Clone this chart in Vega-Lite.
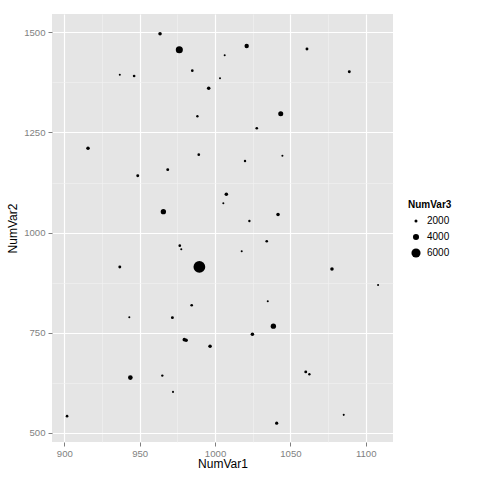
{
  "$schema": "https://vega.github.io/schema/vega-lite/v6.json",
  "width": 341,
  "height": 428,
  "autosize": "none",
  "padding": {"left": 52, "top": 14, "right": 87, "bottom": 38},
  "background": "white",
  "config": {
    "view": {"fill": "#E5E5E5", "stroke": null},
    "font": "Liberation Sans",
    "axis": {
      "domain": false,
      "labelColor": "#7F7F7F",
      "labelFontSize": 9.6,
      "labelOverlap": false,
      "tickSize": 4,
      "tickWidth": 1,
      "titleColor": "black",
      "titleFontSize": 12,
      "titleFontWeight": "normal",
      "format": "d"
    }
  },
  "data": {
    "values": [
      {"NumVar1": 963.5, "NumVar2": 1496.5, "NumVar3": 2330},
      {"NumVar1": 976.3, "NumVar2": 1456.6, "NumVar3": 4660},
      {"NumVar1": 936.8, "NumVar2": 1394.2, "NumVar3": 1340},
      {"NumVar1": 946.3, "NumVar2": 1391.0, "NumVar3": 1750},
      {"NumVar1": 984.9, "NumVar2": 1404.2, "NumVar3": 1750},
      {"NumVar1": 1006.4, "NumVar2": 1442.6, "NumVar3": 1340},
      {"NumVar1": 1003.3, "NumVar2": 1385.2, "NumVar3": 1340},
      {"NumVar1": 995.8, "NumVar2": 1360.3, "NumVar3": 2330},
      {"NumVar1": 988.3, "NumVar2": 1290.4, "NumVar3": 1570},
      {"NumVar1": 915.7, "NumVar2": 1210.6, "NumVar3": 2330},
      {"NumVar1": 989.2, "NumVar2": 1194.6, "NumVar3": 1750},
      {"NumVar1": 968.6, "NumVar2": 1157.2, "NumVar3": 1920},
      {"NumVar1": 948.7, "NumVar2": 1142.2, "NumVar3": 1920},
      {"NumVar1": 1007.5, "NumVar2": 1095.8, "NumVar3": 2330},
      {"NumVar1": 1005.5, "NumVar2": 1073.4, "NumVar3": 1340},
      {"NumVar1": 965.7, "NumVar2": 1052.4, "NumVar3": 3500},
      {"NumVar1": 1021.0, "NumVar2": 1465.8, "NumVar3": 2900},
      {"NumVar1": 1061.0, "NumVar2": 1458.3, "NumVar3": 1920},
      {"NumVar1": 1089.1, "NumVar2": 1401.7, "NumVar3": 1920},
      {"NumVar1": 1043.6, "NumVar2": 1296.9, "NumVar3": 3320},
      {"NumVar1": 1027.7, "NumVar2": 1260.5, "NumVar3": 1750},
      {"NumVar1": 1019.9, "NumVar2": 1178.9, "NumVar3": 1570},
      {"NumVar1": 1044.7, "NumVar2": 1192.1, "NumVar3": 1340},
      {"NumVar1": 1041.8, "NumVar2": 1045.1, "NumVar3": 2330},
      {"NumVar1": 1022.8, "NumVar2": 1029.2, "NumVar3": 1570},
      {"NumVar1": 1034.3, "NumVar2": 978.5, "NumVar3": 1750},
      {"NumVar1": 976.6, "NumVar2": 967.6, "NumVar3": 1750},
      {"NumVar1": 977.6, "NumVar2": 958.6, "NumVar3": 1340},
      {"NumVar1": 989.6, "NumVar2": 914.4, "NumVar3": 7750},
      {"NumVar1": 936.8, "NumVar2": 914.4, "NumVar3": 1920},
      {"NumVar1": 984.5, "NumVar2": 818.9, "NumVar3": 1750},
      {"NumVar1": 943.1, "NumVar2": 788.9, "NumVar3": 1340},
      {"NumVar1": 971.7, "NumVar2": 787.9, "NumVar3": 1920},
      {"NumVar1": 979.6, "NumVar2": 733.0, "NumVar3": 2330},
      {"NumVar1": 980.8, "NumVar2": 731.5, "NumVar3": 2330},
      {"NumVar1": 996.7, "NumVar2": 716.6, "NumVar3": 2330},
      {"NumVar1": 943.8, "NumVar2": 638.2, "NumVar3": 3090},
      {"NumVar1": 965.0, "NumVar2": 643.2, "NumVar3": 1570},
      {"NumVar1": 972.1, "NumVar2": 602.6, "NumVar3": 1340},
      {"NumVar1": 901.8, "NumVar2": 541.9, "NumVar3": 1750},
      {"NumVar1": 1017.7, "NumVar2": 953.6, "NumVar3": 1340},
      {"NumVar1": 1077.6, "NumVar2": 909.4, "NumVar3": 2330},
      {"NumVar1": 1108.2, "NumVar2": 869.5, "NumVar3": 1340},
      {"NumVar1": 1035.0, "NumVar2": 828.9, "NumVar3": 1340},
      {"NumVar1": 1038.7, "NumVar2": 766.5, "NumVar3": 3500},
      {"NumVar1": 1024.8, "NumVar2": 746.5, "NumVar3": 2330},
      {"NumVar1": 1060.2, "NumVar2": 652.5, "NumVar3": 1920},
      {"NumVar1": 1062.6, "NumVar2": 646.7, "NumVar3": 1570},
      {"NumVar1": 1085.4, "NumVar2": 545.2, "NumVar3": 1340},
      {"NumVar1": 1040.9, "NumVar2": 524.4, "NumVar3": 2100}
    ]
  },
  "mark": {"type": "circle", "color": "black", "opacity": 1},
  "encoding": {
    "x": {
      "field": "NumVar1",
      "type": "quantitative",
      "scale": {"domain": [891.8, 1118.1], "nice": false, "zero": false},
      "axis": {
        "title": "NumVar1",
        "values": [900, 925, 950, 975, 1000, 1025, 1050, 1075, 1100],
        "labelExpr": "datum.value % 50 === 0 ? datum.label : ''",
        "labelPadding": 2,
        "titlePadding": 1,
        "gridColor": {"condition": {"test": "datum.value % 50 === 0", "value": "#FFFFFF"}, "value": "#F2F2F2"},
        "gridWidth": {"condition": {"test": "datum.value % 50 === 0", "value": 1.2}, "value": 0.6},
        "tickColor": {"condition": {"test": "datum.value % 50 === 0", "value": "#7F7F7F"}, "value": "transparent"}
      }
    },
    "y": {
      "field": "NumVar2",
      "type": "quantitative",
      "scale": {"domain": [477.5, 1545.7], "nice": false, "zero": false},
      "axis": {
        "title": "NumVar2",
        "values": [500, 625, 750, 875, 1000, 1125, 1250, 1375, 1500],
        "labelExpr": "datum.value % 250 === 0 ? datum.label : ''",
        "labelPadding": 3,
        "titlePadding": 4,
        "gridColor": {"condition": {"test": "datum.value % 250 === 0", "value": "#FFFFFF"}, "value": "#F2F2F2"},
        "gridWidth": {"condition": {"test": "datum.value % 250 === 0", "value": 1.2}, "value": 0.6},
        "tickColor": {"condition": {"test": "datum.value % 250 === 0", "value": "#7F7F7F"}, "value": "transparent"}
      }
    },
    "size": {
      "field": "NumVar3",
      "type": "quantitative",
      "scale": {"type": "pow", "exponent": 2, "domain": [0, 6000], "range": [0, 83.3]},
      "legend": {
        "title": "NumVar3",
        "values": [2000, 4000, 6000],
        "format": "d",
        "orient": "none",
        "legendX": 356,
        "legendY": 186,
        "titleFontSize": 10,
        "titleFontWeight": "bold",
        "titleColor": "black",
        "labelFontSize": 10,
        "labelColor": "black",
        "symbolType": "circle",
        "symbolFillColor": "black",
        "symbolStrokeWidth": 0,
        "symbolOffset": 3,
        "labelOffset": 6,
        "rowPadding": 6,
        "titlePadding": 6
      }
    }
  }
}
